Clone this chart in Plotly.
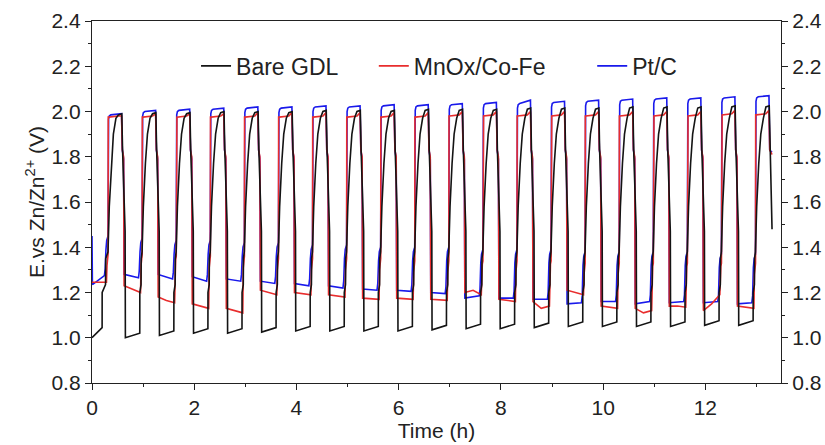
import plotly.graph_objects as go

# ---------------- data ----------------
period = 2.0 / 3.0          # h per charge/discharge cycle
first_charge = 0.318        # h, start of the first charge step
n_cycles = 20

# low (discharge) plateau levels, one per discharge period j = 0..19
black_low_start = [1.00, 1.00, 1.01, 1.02, 1.02, 1.025, 1.03, 1.03, 1.03, 1.03,
                   1.035, 1.04, 1.04, 1.045, 1.05, 1.05, 1.05, 1.05, 1.055, 1.055]
black_low_end = [1.045, 1.02, 1.03, 1.04, 1.04, 1.045, 1.05, 1.05, 1.05, 1.05,
                 1.055, 1.06, 1.06, 1.065, 1.07, 1.07, 1.07, 1.07, 1.075, 1.075]
red_low_start = [1.245, 1.23, 1.18, 1.15, 1.13, 1.21, 1.20, 1.19, 1.175, 1.175,
                 1.17, 1.20, 1.17, 1.16, 1.21, 1.14, 1.13, 1.14, 1.12, 1.14]
red_low_mid = [1.245, 1.215, 1.165, 1.14, 1.12, 1.20, 1.195, 1.185, 1.172, 1.172,
               1.167, 1.21, 1.165, 1.13, 1.20, 1.135, 1.11, 1.14, 1.15, 1.135]
red_low_end = [1.245, 1.20, 1.155, 1.13, 1.11, 1.19, 1.19, 1.18, 1.17, 1.17,
               1.165, 1.19, 1.16, 1.14, 1.19, 1.13, 1.12, 1.135, 1.19, 1.13]
blue_low_start = [1.235, 1.28, 1.28, 1.27, 1.26, 1.25, 1.24, 1.23, 1.215, 1.21,
                  1.20, 1.175, 1.175, 1.17, 1.15, 1.16, 1.15, 1.155, 1.155, 1.15]
blue_low_end = [1.275, 1.265, 1.26, 1.25, 1.25, 1.24, 1.23, 1.22, 1.21, 1.205,
                1.195, 1.185, 1.175, 1.17, 1.155, 1.16, 1.16, 1.16, 1.16, 1.155]
blue_step = [1.45, 1.44, 1.43, 1.43, 1.42, 1.42, 1.41, 1.41, 1.40, 1.40,
             1.40, 1.39, 1.39, 1.39, 1.38, 1.38, 1.38, 1.38, 1.37, 1.37]
red_step = [1.37, 1.37, 1.36, 1.36, 1.36, 1.35, 1.35, 1.35, 1.35, 1.34,
            1.34, 1.34, 1.34, 1.34, 1.33, 1.33, 1.33, 1.33, 1.33, 1.33]

# high (charge) plateau levels, one per charge period k = 0..19
blue_top_start = [1.985, 2.00, 2.005, 2.01, 2.015, 2.015, 2.02, 2.02, 2.025, 2.025,
                  2.03, 2.035, 2.035, 2.04, 2.045, 2.05, 2.055, 2.055, 2.06, 2.065]
blue_top_end = [1.99, 2.005, 2.01, 2.015, 2.02, 2.02, 2.025, 2.025, 2.03, 2.03,
                2.035, 2.04, 2.05, 2.045, 2.05, 2.055, 2.06, 2.06, 2.065, 2.07]
red_top_start = [1.975, 1.975, 1.975, 1.975, 1.975, 1.975, 1.975, 1.975, 1.975, 1.975,
                 1.98, 1.98, 1.98, 1.98, 1.98, 1.98, 1.98, 1.98, 1.985, 1.985]
red_top_end = [1.98, 1.99, 1.99, 1.99, 1.995, 1.995, 1.995, 1.995, 1.995, 1.995,
               2.0, 2.0, 2.0, 2.0, 2.0, 2.0, 2.0, 2.0, 2.005, 2.005]
black_top = [1.99, 1.995, 1.995, 2.0, 2.0, 2.0, 2.005, 2.005, 2.005, 2.01,
             2.01, 2.01, 2.015, 2.015, 2.015, 2.02, 2.02, 2.02, 2.025, 2.025]
shoulder = 1.83             # short relaxation step after each charge
black_tail = 1.47           # end of black decay before dropping
black_end = 1.48            # last recorded black value
red_end = 1.81
blue_end = 1.82

x_ticks = [0, 2, 4, 6, 8, 10, 12]
y_ticks = [0.8, 1.0, 1.2, 1.4, 1.6, 1.8, 2.0, 2.2, 2.4]

# ---------------- build the three voltage profiles ----------------
def build_black():
    t, v = [0.0], [black_low_start[0]]
    for j in range(n_cycles):
        R = first_charge + j * period
        if j > 0:
            t.append(R - period + 0.335); v.append(black_low_start[j])
        lead1, lead2 = (0.12, 0.05) if j == 0 else (0.05, 0.022)
        t += [R - lead1, R - lead1 + 0.001, R - lead2 - 0.003, R - lead2, R - 0.005]
        v += [black_low_end[j], 1.20, 1.235, 1.35, 1.38]
        top = black_top[j]
        t += [R + 0.02, R + 0.06, R + 0.10, R + 0.15, R + 0.20, R + 0.265, R + 0.28]
        v += [1.58, 1.77, 1.90, 1.97, top - 0.005, top, shoulder]
        if j < n_cycles - 1:
            t += [R + 0.33]; v += [black_tail]
        else:
            t += [R + 0.32]; v += [black_end]
    return t, v


def build_red():
    t, v = [0.0], [red_low_start[0]]
    for j in range(n_cycles):
        R = first_charge + j * period
        if j > 0:
            s = R - period + 0.31
            t += [s, (s + R - 0.035) / 2]
            v += [red_low_start[j], red_low_mid[j]]
        st = red_step[j]
        t += [R - 0.035, R - 0.025, R - 0.015, R - 0.003]
        v += [red_low_end[j], st - 0.05, st - 0.015, st]
        t += [R, R + 0.01, R + 0.20, R + 0.26, R + 0.275]
        v += [red_top_start[j], red_top_start[j], red_top_start[j] + 0.005, red_top_end[j], shoulder]
        if j < n_cycles - 1:
            t += [R + 0.30]; v += [1.80]
        else:
            t += [R + 0.32]; v += [red_end]
    return t, v


def build_blue():
    t, v = [0.0, 0.008], [blue_step[0], blue_low_start[0]]
    for j in range(n_cycles):
        R = first_charge + j * period
        if j > 0:
            t += [R - period + 0.31]; v += [blue_low_start[j]]
        st = blue_step[j]
        t += [R - 0.075, R - 0.06, R - 0.045, R - 0.03, R - 0.004]
        v += [blue_low_end[j], blue_low_end[j] + 0.03, st - 0.06, st - 0.02, st]
        ts, te = blue_top_start[j], blue_top_end[j]
        t += [R, R + 0.006, R + 0.02, R + 0.05, R + 0.26, R + 0.275]
        v += [ts - 0.05, ts - 0.02, ts - 0.005, ts, te, shoulder]
        if j < n_cycles - 1:
            t += [R + 0.30]; v += [1.79]
        else:
            t += [R + 0.32]; v += [blue_end]
    return t, v


bt, bv = build_black()
rt, rv = build_red()
pt, pv = build_blue()

fig = go.Figure()
fig.add_trace(go.Scatter(x=pt, y=pv, mode="lines", name="Pt/C", legend="legend3",
                         line=dict(color="rgb(25,25,235)", width=1.6)))
fig.add_trace(go.Scatter(x=rt, y=rv, mode="lines", name="MnOx/Co-Fe", legend="legend2",
                         line=dict(color="rgb(232,45,45)", width=1.6)))
fig.add_trace(go.Scatter(x=bt, y=bv, mode="lines", name="Bare GDL", legend="legend",
                         line=dict(color="rgb(20,20,20)", width=1.6)))
fig.add_trace(go.Scatter(x=[0.8], y=[0.8], yaxis="y2", mode="lines", showlegend=False,
                         hoverinfo="skip", line=dict(width=0)))

font_family = "Liberation Sans, Arial, sans-serif"
axis_common = dict(showline=True, linecolor="#222", linewidth=1.3,
                   ticks="outside", ticklen=6, tickwidth=1.2, tickcolor="#222",
                   tickfont=dict(family=font_family, size=21, color="#222"),
                   showgrid=False, zeroline=False, automargin=False)


def legend_box(xpos):
    return dict(orientation="h", x=xpos, y=0.876, xanchor="left", yanchor="middle",
                font=dict(family=font_family, size=23, color="#222"),
                bgcolor="rgba(0,0,0,0)")


fig.update_layout(
    width=825, height=445,
    margin=dict(l=92, r=44, t=21, b=62),
    paper_bgcolor="white", plot_bgcolor="white",
    font=dict(family=font_family, color="#222"),
    showlegend=True,
    legend=legend_box(0.151),
    legend2=legend_box(0.409),
    legend3=legend_box(0.726),
    xaxis=dict(range=[0, 13.48], tickvals=x_ticks, mirror=True,
               minor=dict(dtick=1, ticklen=3, tickcolor="#222", ticks="outside"),
               title=dict(text="Time (h)", font=dict(family=font_family, size=21), standoff=2),
               **axis_common),
    yaxis=dict(range=[0.8, 2.4], tickvals=y_ticks, tickformat=".1f",
               minor=dict(dtick=0.1, ticklen=3, tickcolor="#222", ticks="outside"),
               title=dict(text="E.vs Zn/Zn<sup>2+</sup> (V)", font=dict(family=font_family, size=21),
                          standoff=1),
               **axis_common),
    yaxis2=dict(range=[0.8, 2.4], tickvals=y_ticks, tickformat=".1f", overlaying="y",
                side="right", anchor="x",
                minor=dict(dtick=0.1, ticklen=3, tickcolor="#222", ticks="outside"),
                **axis_common),
)

fig.write_html("out.html")
